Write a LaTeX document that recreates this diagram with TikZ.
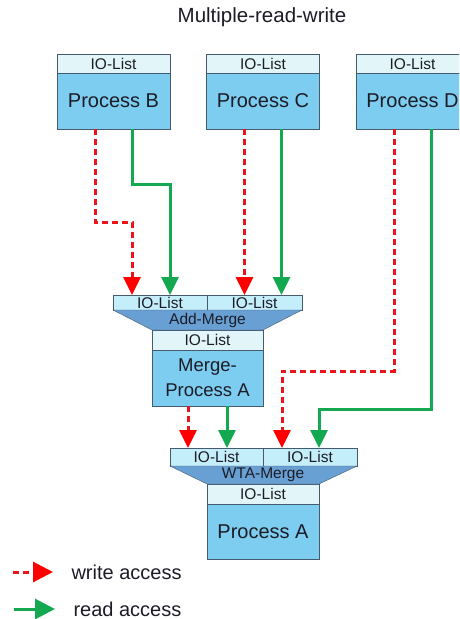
\documentclass[tikz,border=0pt]{standalone}
\usepackage{fontspec}
\setmainfont{Liberation Sans}
\usepackage{xcolor}
\usepackage{tikz}
\usetikzlibrary{positioning, arrows.meta}

\definecolor{procfill}{RGB}{125,205,240}
\definecolor{hdrfill}{RGB}{226,246,250}
\definecolor{listfill}{RGB}{196,238,250}
\definecolor{mergefill}{RGB}{105,160,212}
\definecolor{boxline}{RGB}{70,90,110}
\definecolor{wrred}{RGB}{232,20,30}
\definecolor{rdgreen}{RGB}{20,168,80}
\definecolor{txt}{RGB}{28,28,38}

\begin{document}
\begin{tikzpicture}[x=1pt, y=-1pt,
        proc/.style={draw=boxline, fill=procfill, outer sep=0pt, inner sep=0pt, minimum width=113pt, minimum height=56pt, font=\fontsize{20}{24}\selectfont, text=txt, align=center},
        hdr/.style={draw=boxline, fill=hdrfill, outer sep=0pt, inner sep=0pt, minimum width=113pt, minimum height=19pt, font=\fontsize{15.5}{16}\selectfont, text=txt},
        iolist/.style={draw=boxline, fill=listfill, outer sep=0pt, inner sep=0pt, font=\fontsize{15.5}{16}\selectfont, text=txt},
        merge/.style={draw=boxline, fill=mergefill},
        mlabel/.style={font=\fontsize{15.5}{16}\selectfont, text=txt},
        wr/.style={wrred, line width=3pt, dash pattern=on 6pt off 4pt, -{Triangle[width=17pt, length=18pt, color=red]}},
        rd/.style={rdgreen, line width=3pt, -{Triangle[width=17pt, length=18pt]}},
        big tip/.style={-{Triangle[width=20pt, length=20pt]}},
    ]
    \useasboundingbox (0,0) rectangle (459,619);
    \clip (0,0) rectangle (459,619);

    % Title
    \node[font=\fontsize{20.5}{24}\selectfont, text=txt] (title) at (262,17) {Multiple-read-write};

    % Source processes
    \node[proc] (procB) at (113.5,101) {Process B};
    \node[hdr, above=0pt of procB] (hdrB) {IO-List};
    \node[proc] (procC) at (263,101) {Process C};
    \node[hdr, above=0pt of procC] (hdrC) {IO-List};
    \node[proc] (procD) at (412.5,101) {Process D};
    \node[hdr, above=0pt of procD] (hdrD) {IO-List};

    % Add-Merge with Merge-Process A
    \node[iolist, minimum width=94pt, minimum height=15pt] (addL) at (160,302.5) {IO-List};
    \node[iolist, minimum width=95pt, minimum height=15pt] (addR) at (254.5,302.5) {IO-List};
    \node[hdr, minimum width=111pt, minimum height=20pt] (mpaHdr) at (207.5,340) {IO-List};
    \node[proc, minimum width=111pt, font=\fontsize{18.5}{25}\selectfont, below=0pt of mpaHdr] (mpa) {Merge-\\Process A};
    \draw[merge] (addL.south west) -- (addR.south east) -- (mpaHdr.north east) -- (mpaHdr.north west) -- cycle;
    \node[mlabel] (addLbl) at (207.5,320) {Add-Merge};

    % WTA-Merge with Process A
    \node[iolist, minimum width=93pt, minimum height=18pt] (wtaL) at (216.5,457) {IO-List};
    \node[iolist, minimum width=94pt, minimum height=18pt] (wtaR) at (310,457) {IO-List};
    \node[hdr, minimum width=112pt, minimum height=20pt] (paHdr) at (263,494) {IO-List};
    \node[proc, minimum width=112pt, minimum height=55pt, below=0pt of paHdr] (procA) {Process A};
    \draw[merge] (wtaL.south west) -- (wtaR.south east) -- (paHdr.north east) -- (paHdr.north west) -- cycle;
    \node[mlabel] (wtaLbl) at (263,475) {WTA-Merge};

    % Accesses into Add-Merge
    \draw[wr] ([xshift=-18.5pt]procB.south) -- ++(0,93) -| ([xshift=-28pt]addL.north);
    \draw[rd] ([xshift=18.5pt]procB.south) -- ++(0,55) -| ([xshift=10pt]addL.north);
    \draw[wr] ([xshift=-18.5pt]procC.south) -- ([xshift=-18.5pt]procC.south |- addR.north);
    \draw[rd] ([xshift=18.5pt]procC.south) -- ([xshift=18.5pt]procC.south |- addR.north);

    % Accesses into WTA-Merge
    \draw[wr] ([xshift=-19.5pt]mpa.south) -- ([xshift=-19.5pt]mpa.south |- wtaL.north);
    \draw[rd] ([xshift=19.5pt]mpa.south) -- ([xshift=19.5pt]mpa.south |- wtaL.north);
    \draw[wr] ([xshift=-18.5pt]procD.south) -- ++(0,242) -| ([xshift=-28pt]wtaR.north);
    \draw[rd] ([xshift=18.5pt]procD.south) -- ++(0,280) -| ([xshift=9pt]wtaR.north);

    % Legend
    \node[mlabel, font=\fontsize{20}{24}\selectfont, anchor=west] (lgWrite) at (68,572) {write access};
    \node[mlabel, font=\fontsize{20}{24}\selectfont, anchor=west] (lgRead) at (70,609) {read access};
    \coordinate (wrStart) at (13,572);
    \coordinate (rdStart) at (14,609);
    \draw[wr, big tip, -{Triangle[width=20pt, length=20pt, color=red]}] (wrStart) -- ([xshift=-15pt]lgWrite.west);
    \draw[rd, big tip] (rdStart) -- ([xshift=-15pt]lgRead.west);
\end{tikzpicture}
\end{document}
